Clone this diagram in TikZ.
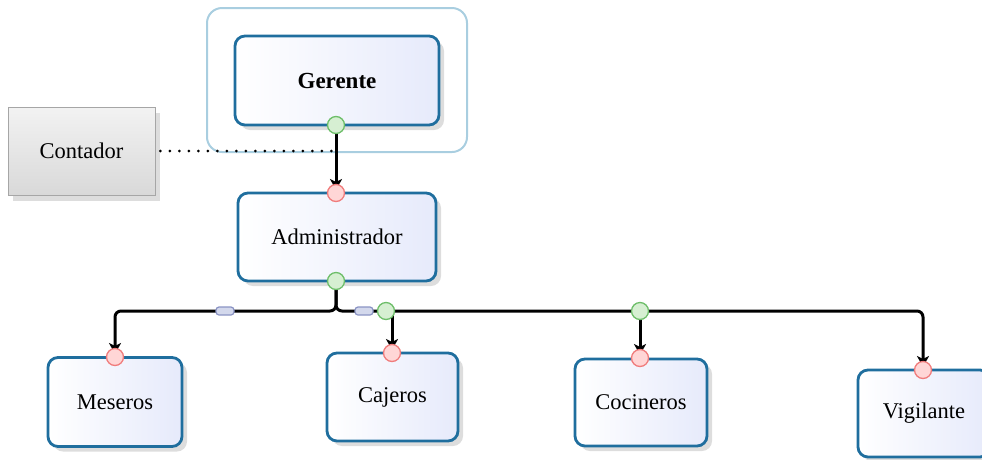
\documentclass[tikz,border=0pt]{standalone}
\usepackage{fontspec}
\setmainfont{Liberation Serif}
\usetikzlibrary{shadows,arrows.meta}
\definecolor{boxline}{HTML}{1F6E9E}
\definecolor{boxfill}{HTML}{E6EAFB}
\definecolor{grpline}{HTML}{A9CEE0}
\definecolor{gfill}{HTML}{D6EFD2}
\definecolor{gline}{HTML}{6DBE69}
\definecolor{rfill}{HTML}{FFD6D6}
\definecolor{rline}{HTML}{F07C7C}
\definecolor{mfill}{HTML}{D3D8EC}
\definecolor{mline}{HTML}{8A93C4}
\begin{document}
\begin{tikzpicture}[x=1pt,y=-1pt,
  lbl/.style={font=\fontsize{22.5}{27}\selectfont},
  ubox/.style={lbl,draw=boxline,line width=2.8pt,rounded corners=10pt,
    left color=white,right color=boxfill,
    drop shadow={shadow xshift=5pt,shadow yshift=-5pt,opacity=0.22,fill=black!60}},
  cbox/.style={lbl,draw=black!35,line width=0.9pt,
    top color=white!95!black,bottom color=black!15,
    drop shadow={shadow xshift=5pt,shadow yshift=-6pt,opacity=0.22,fill=black!60}},
  gdot/.style={circle,draw=gline,fill=gfill,line width=1.3pt,minimum size=17pt,inner sep=0pt},
  rdot/.style={circle,draw=rline,fill=rfill,line width=1.3pt,minimum size=17pt,inner sep=0pt},
  linkmark/.style={rectangle,rounded corners=3pt,draw=mline,fill=mfill,line width=1.2pt,minimum width=18pt,minimum height=8pt,inner sep=0pt},
  arr/.style={line width=3pt,-{Stealth[length=11pt,width=12pt,inset=3pt]}},
  conn/.style={line width=3pt}
]
\useasboundingbox (0,0) rectangle (982,459);

% group container
\draw[grpline,line width=2pt,rounded corners=15pt] (207,8) rectangle (467,152);

% boxes
\node[ubox,minimum width=204pt,minimum height=89pt] (ger) at (337,80.5) {\fontsize{23}{27}\selectfont\textbf{Gerente}};
\node[cbox,minimum width=147pt,minimum height=88pt] (con) at (81.5,151) {Contador};
\node[ubox,minimum width=198pt,minimum height=88pt] (adm) at (337,237) {Administrador};
\node[ubox,minimum width=134pt,minimum height=89pt] (mes) at (115,402) {Meseros};
\node[ubox,minimum width=131pt,minimum height=88pt] (caj) at (392.5,397) {Cajeros};
\node[ubox,minimum width=132pt,minimum height=87pt] (coc) at (641,402.5) {Cocineros};
\node[ubox,minimum width=132pt,minimum height=87pt] (vig) at (924,413.5) {Vigilante};

% dot positions
\coordinate (g1) at (336,125);
\coordinate (r1) at (336,193);
\coordinate (g2) at (336,281);
\coordinate (g3) at (386,311);
\coordinate (g4) at (640,311);
\coordinate (r3) at (115,357);
\coordinate (r4) at (392,353);
\coordinate (r5) at (640,358);
\coordinate (r6) at (923,370);
\coordinate (m1) at (225,311);
\coordinate (m2) at (364,311);

% connectors
\draw[line width=3pt,line cap=round,dash pattern=on 0pt off 9.5pt] (con.east) ++(5,0) -- (g1 |- con.east);
\draw[arr,shorten >=3pt] (g1) -- (r1);
\draw[arr,rounded corners=6pt,shorten >=3pt] (g2) |- (r3 |- m1) -- (r3);
\draw[arr,rounded corners=6pt,shorten >=3pt] (g2) |- (r6 |- m1) -- (r6);
\draw[arr,shorten >=3pt] (r4 |- g3) -- (r4);
\draw[arr,shorten >=3pt] (g4) -- (r5);

% link markers and dots
\node[linkmark] (lm1) at (m1) {};
\node[linkmark] (lm2) at (m2) {};
\node[gdot] (dg1) at (g1) {};
\node[rdot] (dr1) at (r1) {};
\node[gdot] (dg2) at (g2) {};
\node[gdot] (dg3) at (g3) {};
\node[gdot] (dg4) at (g4) {};
\node[rdot] (dr3) at (r3) {};
\node[rdot] (dr4) at (r4) {};
\node[rdot] (dr5) at (r5) {};
\node[rdot] (dr6) at (r6) {};
\end{tikzpicture}
\end{document}
